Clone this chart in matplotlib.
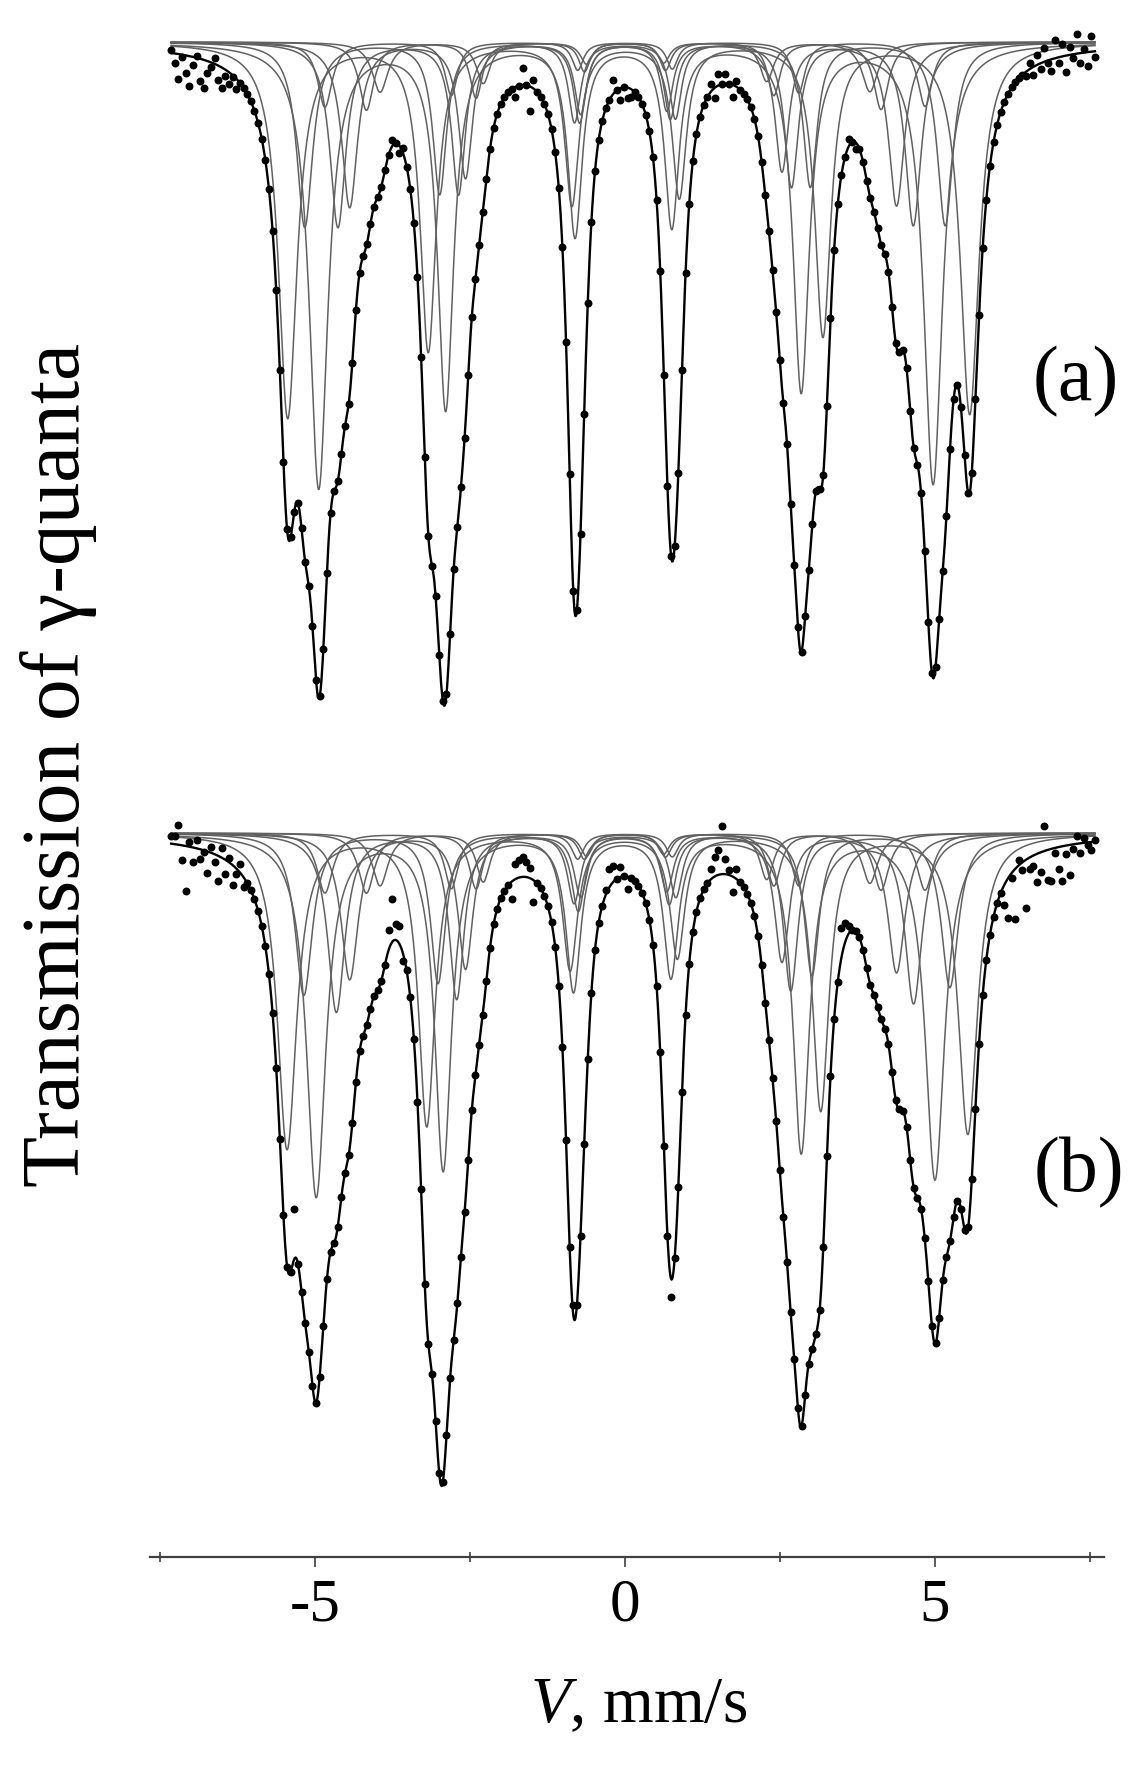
import numpy as np
import matplotlib.pyplot as plt

plt.rcParams['font.family'] = ['Liberation Serif', 'DejaVu Serif']
plt.rcParams['mathtext.fontset'] = 'custom'
plt.rcParams['mathtext.rm'] = 'Liberation Serif'
plt.rcParams['mathtext.it'] = 'Liberation Serif:italic'
plt.rcParams['axes.unicode_minus'] = False

# velocity channels of the spectrometer (mm/s)
v_first, v_last, n_channels = -7.32, 7.58, 256

# Fe-57 sextet: positions of lines 1..6 relative to the outer half splitting
line_pos = [-1.0, -0.5787, -0.1575, 0.1575, 0.5787, 1.0]
# outer lines are broader than inner ones
width_scale = [1.3, 1.12, 1.0, 1.0, 1.12, 1.3]

# spectrum (a): sub-spectra
# half splitting (mm/s), shift of lines 1/6, shift of lines 2-5, depth of line 1 (arb.), half width (mm/s)
a_split = [5.50, 4.955, 5.165, 4.64, 4.41, 4.84, 4.15, 3.95]
a_shift_out = [0.06, 0.015, 0.0, 0.01, -0.03, 0.0, -0.02, 0.0]
a_shift_in = [0.01, -0.025, 0.0, 0.0, -0.02, 0.0, 0.0, 0.0]
a_depth = [3.75, 4.45, 1.85, 1.85, 1.65, 0.65, 0.68, 0.50]
a_width = [0.14, 0.14, 0.12, 0.12, 0.12, 0.11, 0.11, 0.12]
a_ratio = [1.0, 0.82, 0.43, 0.41, 0.78, 0.99]

# spectrum (b)
b_split = [5.49, 4.99, 5.21, 4.655, 4.41, 4.84, 4.15, 3.95]
b_shift_out = [0.04, 0.01, 0.03, 0.0, -0.03, 0.0, -0.02, 0.0]
b_shift_in = [-0.02, -0.045, 0.0, -0.02, -0.02, 0.0, 0.0, 0.0]
b_depth = [3.00, 3.45, 1.54, 1.70, 1.39, 0.57, 0.57, 0.50]
b_width = [0.145, 0.145, 0.13, 0.13, 0.13, 0.12, 0.12, 0.12]
b_ratio = [1.05, 0.97, 0.45, 0.41, 0.92, 1.0]

# vertical position of each baseline
a_base = 0.0
b_base = -7.91

# deviations of measured points from the fit (channel index, extra depth)
a_scatter_idx = [0, 1, 2, 3, 4, 5, 6, 7, 8, 9, 10, 11, 12, 13, 14, 15, 16, 17, 18,
                 61, 63, 64, 95, 97, 99, 100, 122, 124, 126, 127,
                 149, 150, 151, 153, 155, 156, 187, 189,
                 236, 237, 238, 239, 240, 241, 242, 243, 244, 245,
                 246, 247, 248, 249, 250, 251, 252, 253, 254, 255]
a_scatter_dy = [-0.03, 0.10, 0.25, 0.02, 0.18, 0.30, 0.08, -0.02, 0.22, 0.28, 0.12, 0.05, -0.06, 0.14, 0.20, 0.06, 0.12, 0.02, 0.10,
                -0.06, 0.08, -0.05, 0.10, -0.17, 0.25, -0.08, -0.14, 0.12, 0.10, 0.08,
                -0.08, 0.10, -0.12, -0.10, 0.12, -0.06, -0.08, 0.06,
                0.04, -0.06, 0.08, -0.10, 0.06, -0.14, 0.03, 0.12, -0.18, 0.06,
                -0.12, 0.16, -0.08, 0.04, -0.20, 0.10, -0.04, 0.14, -0.16, 0.06]

b_scatter_idx = [0, 1, 2, 3, 4, 5, 6, 7, 8, 9, 10, 11, 12, 13, 14, 15, 16, 17, 18, 19, 20,
                 34, 60, 61, 62, 63, 64, 94, 95, 96, 97, 98, 99, 100, 111,
                 120, 121, 122, 124, 126, 138, 149, 150, 151, 152, 153, 154, 155, 156,
                 185, 186, 187,
                 230, 231, 232, 233, 234, 235, 236, 237, 238, 239, 240, 241, 242,
                 243, 244, 245, 246, 247, 248, 249, 250, 251, 252, 253, 254, 255]
b_scatter_dy = [-0.08, -0.08, -0.20, 0.15, 0.45, -0.05, 0.15, -0.08, 0.10, 0.02, 0.22, -0.06, 0.08, 0.25, -0.10, 0.14, -0.04, 0.20, 0.05, -0.08, 0.10,
                -0.50, -0.20, -0.43, -0.16, -0.18, 0.08, 0.17, -0.15, -0.18, -0.20, -0.15, -0.10, 0.22, -0.10,
                -0.05, -0.18, -0.16, -0.10, 0.12, 0.18, -0.10, -0.20, -0.25, -0.48, -0.15, -0.05, 0.15, -0.10,
                -0.30, -0.20, -0.08,
                0.20, 0.40, 0.05, 0.50, -0.05, 0.08, 0.48, 0.12, 0.10, 0.28, 0.20, -0.25, 0.30,
                0.32, 0.05, 0.22, 0.35, 0.08, 0.30, 0.05, -0.08, 0.10, -0.05, 0.03, 0.08, -0.02]


def sextet(v, split, s_out, s_in, depth, hw, ratio):
    out = np.zeros_like(v)
    for k in range(6):
        p = split * line_pos[k] + (s_out if k in (0, 5) else s_in)
        g = hw * width_scale[k]
        out += depth * ratio[k] / (1 + ((v - p) / g) ** 2)
    return out


fig = plt.figure(figsize=(11.47, 17.66), dpi=100)
ax = fig.add_axes([150 / 1147, 209 / 1766, 954 / 1147, 1557 / 1766])

v_fine = np.linspace(v_first, v_last, 1500)
v_ch = np.linspace(v_first, v_last, n_channels)

panels = [
    (a_base, a_split, a_shift_out, a_shift_in, a_depth, a_width, a_ratio, a_scatter_idx, a_scatter_dy),
    (b_base, b_split, b_shift_out, b_shift_in, b_depth, b_width, b_ratio, b_scatter_idx, b_scatter_dy),
]

for base, split, s_out, s_in, depth, width, ratio, sc_idx, sc_dy in panels:
    total_fine = np.zeros_like(v_fine)
    total_ch = np.zeros_like(v_ch)
    for i in range(len(split)):
        comp = sextet(v_fine, split[i], s_out[i], s_in[i], depth[i], width[i], ratio)
        ax.plot(v_fine, base - comp, color='0.38', lw=1.1, zorder=2)
        total_fine += comp
        total_ch += sextet(v_ch, split[i], s_out[i], s_in[i], depth[i], width[i], ratio)
    ax.plot(v_fine, base - total_fine, color='k', lw=1.7, zorder=3)
    points = base - total_ch
    points[sc_idx] -= np.array(sc_dy)
    ax.plot(v_ch, points, 'o', color='k', ms=5.7, mec='none', zorder=4, clip_on=False)

ax.set_xlim(-7.661, 7.726)
ax.set_ylim(-15.15, 0.42)
for side in ['left', 'right', 'top']:
    ax.spines[side].set_visible(False)
ax.spines['bottom'].set_linewidth(1.6)
ax.spines['bottom'].set_color('0.25')
ax.set_yticks([])
ax.set_xticks([-5, 0, 5])
ax.set_xticks([-7.5, -2.5, 2.5, 7.5], minor=True)
ax.set_xticklabels(['-5', '0', '5'])
ax.tick_params(axis='x', which='major', direction='out', length=7, width=1.2, color='0.25', labelsize=44, pad=8)
ax.tick_params(axis='x', which='minor', direction='inout', length=7, width=1.2, color='0.25')

fig.text(0.557, 0.034, '$V$, mm/s', ha='center', va='center', fontsize=47)
fig.text(0.051, 0.567, 'Transmission of \u03b3-quanta', ha='center', va='center', rotation=90, fontsize=60)
fig.text(0.938, 0.784, '(a)', ha='center', va='center', fontsize=56)
fig.text(0.941, 0.336, '(b)', ha='center', va='center', fontsize=56)

fig.savefig('out.png', dpi=100)
